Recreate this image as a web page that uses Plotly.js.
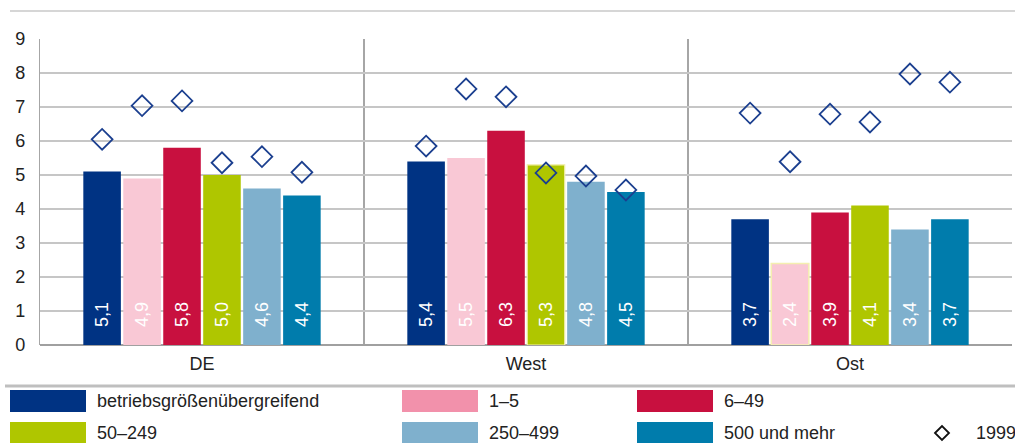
<!DOCTYPE html>
<html><head><meta charset="utf-8">
<script src="https://cdn.plot.ly/plotly-3.0.1.min.js"></script>
<style>html,body{margin:0;padding:0;background:#fff}#chart{width:1015px;height:443px}</style>
</head><body><div id="chart"></div>
<script>
const regions = ['DE', 'West', 'Ost'];
const seriesNames = ['betriebsgrößenübergreifend', '1–5', '6–49', '50–249', '250–499', '500 und mehr'];
const barColors = ['#003383', '#f9c8d5', '#c8103f', '#afc600', '#7fb0cd', '#007cac'];
const legendColors = ['#003383', '#f291ab', '#c8103f', '#afc600', '#7fb0cd', '#007cac'];
// values 2019 (bars) per series: [DE, West, Ost]
const vAll   = [5.1, 5.4, 3.7];
const v1_5   = [4.9, 5.5, 2.4];
const v6_49  = [5.8, 6.3, 3.9];
const v50    = [5.0, 5.3, 4.1];
const v250   = [4.6, 4.8, 3.4];
const v500   = [4.4, 4.5, 3.7];
// values 1999 (diamonds)
const d1999All = [6.05, 5.85, 6.82];
const d1999_1_5 = [7.04, 7.53, 5.39];
const d1999_6_49 = [7.18, 7.30, 6.79];
const d1999_50 = [5.36, 5.06, 6.56];
const d1999_250 = [5.54, 4.97, 7.97];
const d1999_500 = [5.08, 4.56, 7.73];
const yTicks = [0,1,2,3,4,5,6,7,8,9];
const label1999 = '1999';

const barVals = [vAll, v1_5, v6_49, v50, v250, v500];
const dVals = [d1999All, d1999_1_5, d1999_6_49, d1999_50, d1999_250, d1999_500];
const outlineW = [[0,0,0],[0,0,1.5],[0,0,0],[0,1.2,0],[0,0,0],[0,0,0]];

const FONT = 'Arial, "Liberation Sans", sans-serif';
const fmt = v => '\u00a0\u00a0\u00a0' + v.toFixed(1).replace('.', ',');

const traces = [];
barVals.forEach((vals, i) => {
  traces.push({
    type: 'bar', x: regions, y: vals, name: seriesNames[i],
    offsetgroup: 'g' + i, alignmentgroup: 'a',
    marker: {color: barColors[i], line: {width: outlineW[i], color: '#f4efb0'}},
    text: vals.map(fmt), textposition: 'inside', insidetextanchor: 'start', textangle: -90,
    textfont: {color: '#ffffff', size: 18, family: FONT},
    hoverinfo: 'skip', showlegend: false, cliponaxis: false
  });
});
dVals.forEach((vals, i) => {
  traces.push({
    type: 'scatter', mode: 'markers', x: regions, y: vals, name: label1999,
    offsetgroup: 'g' + i, alignmentgroup: 'a',
    marker: {symbol: 'diamond-open', size: 16, color: '#1b3f8f', line: {width: 1.8, color: '#1b3f8f'}},
    hoverinfo: 'skip', showlegend: false, cliponaxis: false
  });
});

const W = 1015, H = 443, ml = 40, mr = 3, mt = 39, mb = 98;
const pw = W - ml - mr, ph = H - mt - mb;
const px = x => (x - ml) / pw;
const py = y => (H - mb - y) / ph;

const shapes = [
  {type: 'line', xref: 'paper', yref: 'paper', x0: px(10), x1: px(1015), y0: py(11), y1: py(11), line: {color: '#c8c8c8', width: 1.5}},
  {type: 'line', xref: 'paper', yref: 'paper', x0: px(5), x1: px(1015), y0: py(386), y1: py(386), line: {color: '#bfbfbf', width: 3}}
];
const annotations = [];
const colX = [10, 402, 637];
const rowY = [401, 433];
seriesNames.forEach((n, i) => {
  const cx = colX[i % 3], cy = rowY[Math.floor(i / 3)];
  shapes.push({type: 'rect', xref: 'paper', yref: 'paper', x0: px(cx), x1: px(cx + 76), y0: py(cy - 11), y1: py(cy + 11), fillcolor: legendColors[i], line: {width: 0}});
  annotations.push({xref: 'paper', yref: 'paper', x: px(cx + 85), y: py(cy), xanchor: 'left', yanchor: 'middle', text: n, showarrow: false, font: {family: FONT, size: 18, color: '#222'}});
});
// 1999 legend entry
const dx = 942, dy = 433, r = 7;
shapes.push({type: 'path', xref: 'paper', yref: 'paper',
  path: `M${px(dx - r)},${py(dy)} L${px(dx)},${py(dy - r)} L${px(dx + r)},${py(dy)} L${px(dx)},${py(dy + r)} Z`,
  line: {color: '#111', width: 1.8}});
annotations.push({xref: 'paper', yref: 'paper', x: px(974), y: py(dy), xanchor: 'left', yanchor: 'middle', text: label1999, showarrow: false, font: {family: FONT, size: 18, color: '#222'}});

const layout = {
  width: W, height: H, margin: {l: ml, r: mr, t: mt, b: mb},
  paper_bgcolor: '#fff', plot_bgcolor: '#fff',
  font: {family: FONT, size: 18, color: '#222'},
  barmode: 'group', bargap: 0.26, bargroupgap: 0.06,
  scattermode: 'group', scattergap: 0.26,
  showlegend: false,
  xaxis: {type: 'category', showgrid: true, tickson: 'boundaries', gridcolor: '#a6a6a6', gridwidth: 1.2,
    ticks: '', ticklabelstandoff: 6, showline: false, zeroline: false,
    tickfont: {family: FONT, size: 18, color: '#222'}, fixedrange: true},
  yaxis: {range: [0, 9], tickvals: yTicks, ticktext: yTicks.map(String), showgrid: true, gridcolor: '#c6c6c6', gridwidth: 1.5,
    showline: true, linecolor: '#a6a6a6', linewidth: 1.2, zeroline: true, zerolinecolor: '#a0a0a0', zerolinewidth: 2,
    ticks: 'outside', ticklen: 10, tickcolor: 'rgba(0,0,0,0)', tickfont: {family: FONT, size: 18, color: '#222'}, fixedrange: true},
  shapes: shapes, annotations: annotations
};
Plotly.newPlot('chart', traces, layout, {displayModeBar: false, staticPlot: true});
</script></body></html>
